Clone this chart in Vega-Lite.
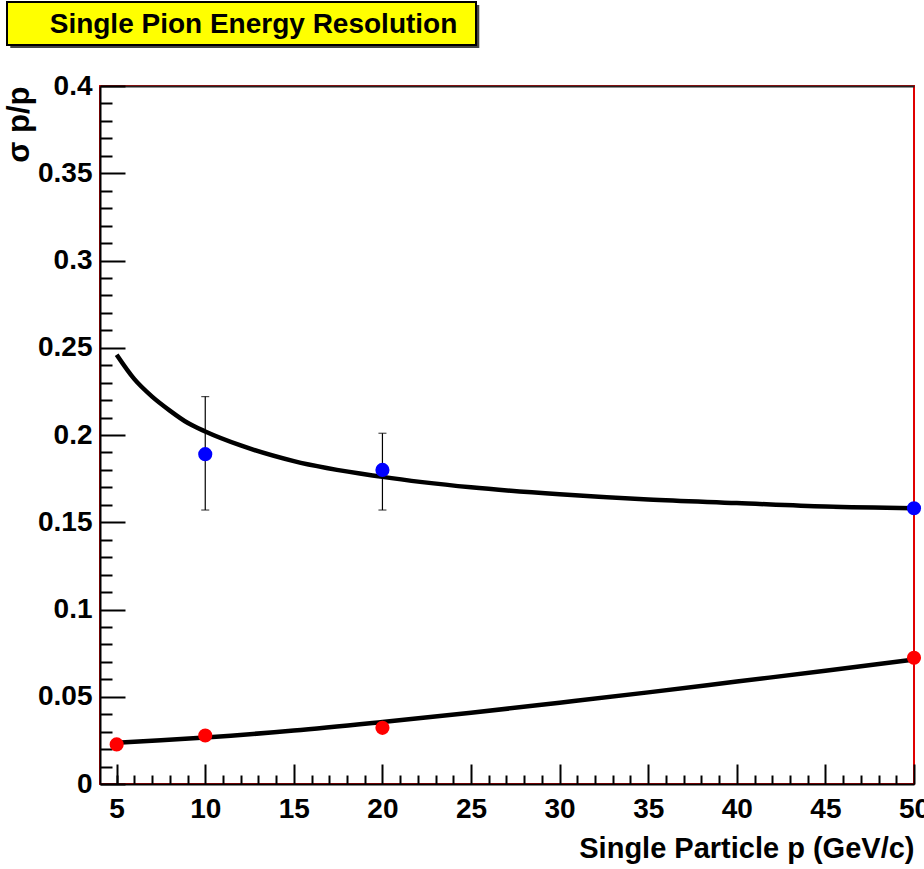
{
  "$schema": "https://vega.github.io/schema/vega-lite/v6.json",
  "background": "white",
  "padding": {"left": 2, "top": 1, "right": 0, "bottom": 0},
  "spacing": 22,
  "config": {
    "font": "Liberation Sans",
    "axis": {
      "domainColor": "black",
      "domainWidth": 2,
      "tickColor": "black",
      "tickWidth": 2,
      "labelFont": "Liberation Sans",
      "labelFontWeight": "bold",
      "labelColor": "black",
      "labelFontSize": 28,
      "titleFont": "Liberation Sans",
      "titleFontWeight": "bold",
      "titleColor": "black",
      "grid": false
    }
  },
  "datasets": {
    "heading": [{"label": "Single Pion Energy Resolution"}],
    "curves": [
      {"series": "upper", "p": 5, "sigma": 0.246},
      {"series": "upper", "p": 6, "sigma": 0.232},
      {"series": "upper", "p": 7, "sigma": 0.222},
      {"series": "upper", "p": 8, "sigma": 0.214},
      {"series": "upper", "p": 9, "sigma": 0.207},
      {"series": "upper", "p": 10, "sigma": 0.202},
      {"series": "upper", "p": 12, "sigma": 0.194},
      {"series": "upper", "p": 15, "sigma": 0.185},
      {"series": "upper", "p": 20, "sigma": 0.176},
      {"series": "upper", "p": 25, "sigma": 0.170},
      {"series": "upper", "p": 30, "sigma": 0.166},
      {"series": "upper", "p": 35, "sigma": 0.163},
      {"series": "upper", "p": 40, "sigma": 0.161},
      {"series": "upper", "p": 45, "sigma": 0.159},
      {"series": "upper", "p": 50, "sigma": 0.158},
      {"series": "lower", "p": 5, "sigma": 0.0237},
      {"series": "lower", "p": 7.5, "sigma": 0.0251},
      {"series": "lower", "p": 10, "sigma": 0.0267},
      {"series": "lower", "p": 15, "sigma": 0.0306},
      {"series": "lower", "p": 20, "sigma": 0.0355},
      {"series": "lower", "p": 25, "sigma": 0.0408},
      {"series": "lower", "p": 30, "sigma": 0.0466},
      {"series": "lower", "p": 35, "sigma": 0.0525},
      {"series": "lower", "p": 40, "sigma": 0.0587},
      {"series": "lower", "p": 45, "sigma": 0.0649},
      {"series": "lower", "p": 50, "sigma": 0.0713}
    ],
    "points": [
      {"series": "blue", "p": 10, "sigma": 0.189, "lo": 0.157, "hi": 0.222},
      {"series": "blue", "p": 20, "sigma": 0.180, "lo": 0.157, "hi": 0.201},
      {"series": "blue", "p": 50, "sigma": 0.158},
      {"series": "red", "p": 5, "sigma": 0.0227},
      {"series": "red", "p": 10, "sigma": 0.0278},
      {"series": "red", "p": 20, "sigma": 0.0322},
      {"series": "red", "p": 50, "sigma": 0.0723}
    ]
  },
  "vconcat": [
    {
      "width": 376,
      "height": 43,
      "view": {"stroke": null},
      "data": {"name": "heading"},
      "layer": [
        {
          "mark": {"type": "rect", "color": "#444444"},
          "encoding": {
            "x": {"datum": 0.007, "type": "quantitative", "scale": {"domain": [0, 1], "range": [-93, 376], "nice": false, "zero": false}, "axis": null},
            "x2": {"datum": 1.007},
            "y": {"datum": -0.07, "type": "quantitative", "scale": {"domain": [0, 1], "range": [43, 0], "nice": false}, "axis": null},
            "y2": {"datum": 0.93}
          }
        },
        {
          "mark": {"type": "rect", "color": "#ffff00", "stroke": "black", "strokeWidth": 2},
          "encoding": {
            "x": {"datum": 0, "type": "quantitative"},
            "x2": {"datum": 1},
            "y": {"datum": 0, "type": "quantitative"},
            "y2": {"datum": 1}
          }
        },
        {
          "mark": {"type": "text", "font": "Liberation Sans", "fontWeight": "bold", "fontSize": 28, "color": "black", "dx": 12, "dy": 1},
          "encoding": {
            "x": {"datum": 0.5, "type": "quantitative"},
            "y": {"datum": 0.5, "type": "quantitative"},
            "text": {"field": "label"}
          }
        }
      ]
    },
    {
      "width": 814,
      "height": 698,
      "view": {"stroke": "#e00000", "strokeWidth": 2},
      "resolve": {"axis": {"x": "independent", "y": "independent"}},
      "layer": [
        {
          "data": {"name": "curves"},
          "mark": {"type": "line", "color": "black", "strokeWidth": 4.5, "interpolate": "monotone"},
          "encoding": {
            "x": {
              "field": "p", "type": "quantitative",
              "scale": {"domain": [4.06, 50], "nice": false, "zero": false},
              "axis": {
                "orient": "bottom",
                "values": [5, 10, 15, 20, 25, 30, 35, 40, 45, 50],
                "format": "d",
                "tickSize": -20,
                "labelPadding": 31,
                "labelFlush": false,
                "labelOverlap": false,
                "title": "Single Particle p (GeV/c)",
                "titleFontSize": 29,
                "titleAnchor": "end",
                "titleAlign": "right",
                "titlePadding": 11
              }
            },
            "y": {
              "field": "sigma", "type": "quantitative",
              "scale": {"domain": [0, 0.4], "nice": false},
              "axis": {
                "orient": "left",
                "values": [0, 0.05, 0.1, 0.15, 0.2, 0.25, 0.3, 0.35, 0.4],
                "format": ".2~f",
                "tickSize": -25,
                "labelPadding": 33,
                "labelFlush": false,
                "labelOverlap": false,
                "title": "σ p/p",
                "titleFontSize": 31,
                "titleAnchor": "end",
                "titleAlign": "right",
                "titlePadding": 2
              }
            },
            "detail": {"field": "series"}
          }
        },
        {
          "data": {"name": "points"},
          "transform": [{"filter": "isValid(datum.lo)"}],
          "mark": {"type": "rule", "color": "black", "strokeWidth": 1.2},
          "encoding": {
            "x": {
              "field": "p", "type": "quantitative",
              "axis": {
                "orient": "bottom",
                "values": [5, 6, 7, 8, 9, 11, 12, 13, 14, 16, 17, 18, 19, 21, 22, 23, 24, 26, 27, 28, 29, 31, 32, 33, 34, 36, 37, 38, 39, 41, 42, 43, 44, 46, 47, 48, 49],
                "tickSize": -9,
                "labels": false,
                "domain": false,
                "title": null
              }
            },
            "y": {
              "field": "lo", "type": "quantitative",
              "axis": {
                "orient": "left",
                "values": [0.01, 0.02, 0.03, 0.04, 0.06, 0.07, 0.08, 0.09, 0.11, 0.12, 0.13, 0.14, 0.16, 0.17, 0.18, 0.19, 0.21, 0.22, 0.23, 0.24, 0.26, 0.27, 0.28, 0.29, 0.31, 0.32, 0.33, 0.34, 0.36, 0.37, 0.38, 0.39],
                "tickSize": -12,
                "labels": false,
                "domain": false,
                "title": null
              }
            },
            "y2": {"field": "hi"}
          }
        },
        {
          "data": {"name": "points"},
          "transform": [{"filter": "isValid(datum.lo)"}],
          "mark": {"type": "tick", "orient": "horizontal", "color": "black", "size": 8, "thickness": 1.2},
          "encoding": {
            "x": {
              "field": "p", "type": "quantitative",
              "axis": {"orient": "top", "ticks": false, "labels": false, "title": null, "domainColor": "#222222"}
            },
            "y": {"field": "hi", "type": "quantitative", "axis": null}
          }
        },
        {
          "data": {"name": "points"},
          "transform": [{"filter": "isValid(datum.lo)"}],
          "mark": {"type": "tick", "orient": "horizontal", "color": "black", "size": 8, "thickness": 1.2},
          "encoding": {
            "x": {"field": "p", "type": "quantitative", "axis": null},
            "y": {"field": "lo", "type": "quantitative", "axis": null}
          }
        },
        {
          "data": {"name": "points"},
          "mark": {"type": "circle", "opacity": 1, "size": 200},
          "encoding": {
            "x": {"field": "p", "type": "quantitative", "axis": null},
            "y": {"field": "sigma", "type": "quantitative", "axis": null},
            "color": {
              "field": "series", "type": "nominal",
              "scale": {"domain": ["blue", "red"], "range": ["#0000ff", "#ff0000"]},
              "legend": null
            }
          }
        }
      ]
    }
  ]
}
